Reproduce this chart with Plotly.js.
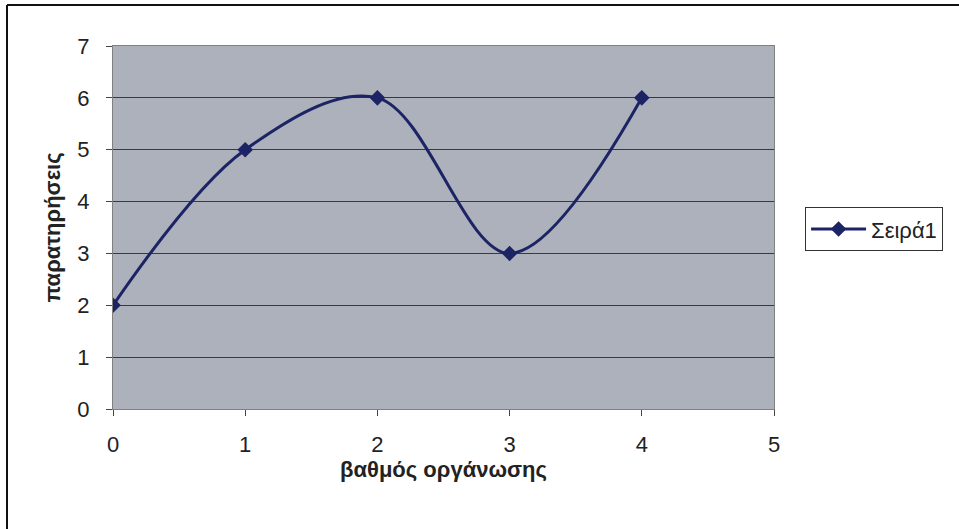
<!DOCTYPE html>
<html>
<head>
<meta charset="utf-8">
<script src="https://cdn.plot.ly/plotly-3.0.1.min.js"></script>
<style>html,body{margin:0;padding:0;background:#fff;}#chart{width:959px;height:529px;}</style>
</head>
<body>
<div id="chart"></div>
<script>
const xValues = [0, 1, 2, 3, 4];
const yValues = [2, 5, 6, 3, 6];
const seriesName = 'Σειρά1';
const xTitle = 'βαθμός οργάνωσης';
const yTitle = 'παρατηρήσεις';
const xTicks = [0, 1, 2, 3, 4, 5];
const yTicks = [0, 1, 2, 3, 4, 5, 6, 7];

const font = 'Liberation Sans, Arial, sans-serif';
const trace = {
  x: xValues, y: yValues, name: seriesName, type: 'scatter', mode: 'lines+markers',
  line: {color: '#1c2466', width: 3, shape: 'spline', smoothing: 1},
  marker: {symbol: 'diamond', size: 12, color: '#1c2466'}
};
const layout = {
  width: 959, height: 529,
  margin: {l: 113, r: 185, t: 46, b: 120},
  paper_bgcolor: '#ffffff',
  plot_bgcolor: '#adb1bb',
  font: {family: font, color: '#222'},
  showlegend: true,
  legend: {x: 1.047, y: 0.556, xanchor: 'left', yanchor: 'top', bordercolor: '#333', borderwidth: 1,
    bgcolor: '#fff', itemwidth: 55, font: {size: 22, family: font, color: '#222'}},
  xaxis: {range: [0, 5], tickvals: xTicks, ticks: 'outside', ticklen: 6, tickcolor: '#444',
    showgrid: false, zeroline: false, showline: true, linecolor: '#808080', linewidth: 1, mirror: true,
    tickfont: {size: 22, family: font, color: '#222'}, ticklabelstandoff: 10,
    title: {text: xTitle, font: {size: 22, family: font, color: '#222', weight: 'bold'}, standoff: 2}},
  yaxis: {range: [0, 7], tickvals: yTicks, ticks: 'outside', ticklen: 6, tickcolor: '#444',
    showgrid: true, gridcolor: '#3a3a3a', gridwidth: 1, zeroline: false, showline: true,
    linecolor: '#808080', linewidth: 1, mirror: true,
    tickfont: {size: 22, family: font, color: '#222'}, ticklabelstandoff: 12,
    title: {text: yTitle, font: {size: 22, family: font, color: '#222', weight: 'bold'}, standoff: 10}},
  shapes: [
    {type: 'line', xref: 'paper', yref: 'paper', x0: (7-113)/661, x1: (959-113)/661, y0: (409-5)/363, y1: (409-5)/363, line: {color: '#111', width: 2}},
    {type: 'line', xref: 'paper', yref: 'paper', x0: (7-113)/661, x1: (7-113)/661, y0: (409-5)/363, y1: (409-529)/363, line: {color: '#111', width: 2}}
  ]
};
Plotly.newPlot('chart', [trace], layout, {displayModeBar: false});
</script>
</body>
</html>
